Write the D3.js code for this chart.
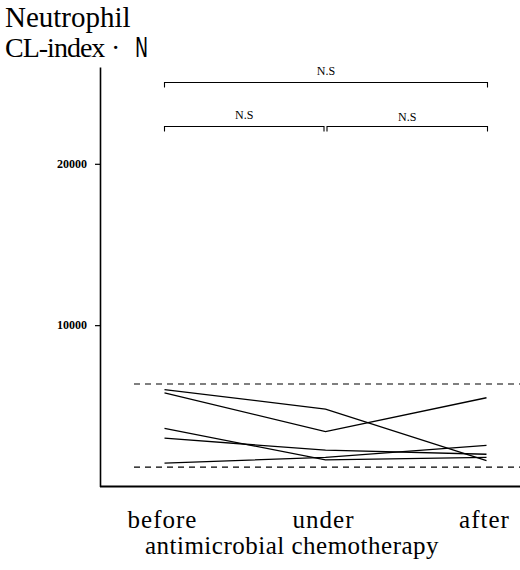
<!DOCTYPE html>
<html>
<head>
<meta charset="utf-8">
<script src="https://cdn.jsdelivr.net/npm/d3@7"></script>
<style>
  html, body { margin: 0; padding: 0; background: #fff; }
  svg { display: block; }
</style>
</head>
<body>
<svg id="chart" width="520" height="570"></svg>
<script>
// Phases of antimicrobial chemotherapy
const phases = ["before", "under", "after"];

// Neutrophil CL-index per patient, one array per patient (before, under, after)
const patientA = [6000, 4800, 1600];
const patientB = [5800, 3400, 5500];
const patientC = [3600, 1650, 1800];
const patientD = [3000, 2250, 2000];
const patientE = [1450, 1800, 2550];
const patients = [patientA, patientB, patientC, patientD, patientE];

// Normal range shown as dashed reference lines
const normalRange = [1200, 6350];

// Y-axis ticks
const yTicks = [10000, 20000];

// Significance brackets between phases
const brackets = [
  { from: "before", to: "after", label: "N.S", level: 0 },
  { from: "before", to: "under", label: "N.S", level: 1 },
  { from: "under", to: "after", label: "N.S", level: 1 }
];

const SERIF = '"Liberation Serif", "Times New Roman", serif';
const svg = d3.select("#chart");

const x = d3.scalePoint().domain(phases).range([164.5, 486.5]);
const y = d3.scaleLinear().domain([0, 26000]).range([486.5, 67]);
const axisX0 = 100;

// Y axis
const yAxis = d3.axisLeft(y).tickValues(yTicks).tickSize(5).tickSizeOuter(0)
  .tickFormat(d3.format("d"));
const gy = svg.append("g").attr("transform", `translate(${axisX0},0)`).call(yAxis);
gy.attr("font-family", null).attr("font-size", null);
gy.select(".domain").attr("stroke", "#000").attr("stroke-width", 1.6);
gy.selectAll(".tick line").attr("stroke", "#000").attr("stroke-width", 1.2);
gy.selectAll(".tick text")
  .attr("x", -13)
  .style("font-family", SERIF)
  .style("font-size", "12px")
  .style("font-weight", "600")
  .attr("fill", "#000");

// X axis baseline
svg.append("line")
  .attr("x1", axisX0).attr("x2", 520)
  .attr("y1", y(0)).attr("y2", y(0))
  .attr("stroke", "#000").attr("stroke-width", 2);

// Normal range dashed lines
svg.selectAll("line.range")
  .data(normalRange)
  .join("line")
  .attr("class", "range")
  .attr("x1", 134).attr("x2", 520)
  .attr("y1", d => y(d)).attr("y2", d => y(d))
  .attr("stroke", "#000").attr("stroke-width", 1.1)
  .attr("stroke-dasharray", "6,5");

// Patient lines
const line = d3.line()
  .x((d, i) => x(phases[i]))
  .y(d => y(d));
svg.selectAll("path.patient")
  .data(patients)
  .join("path")
  .attr("class", "patient")
  .attr("d", line)
  .attr("fill", "none")
  .attr("stroke", "#000")
  .attr("stroke-width", 1.3);

// Significance brackets
const bracketY = [82.5, 126.5];
brackets.forEach(b => {
  const by = bracketY[b.level];
  const x1 = x(b.from) + (b.from === "under" ? 1.5 : 0);
  const x2 = x(b.to) + (b.to === "under" ? -1.5 : 1);
  svg.append("path")
    .attr("d", `M${x1},${by + 5}V${by}H${x2}V${by + 5}`)
    .attr("fill", "none")
    .attr("stroke", "#000")
    .attr("stroke-width", 1.1);
  svg.append("text")
    .attr("x", (x1 + x2) / 2)
    .attr("y", by - (b.level === 1 && b.from === "under" ? 6 : 8))
    .attr("text-anchor", "middle")
    .style("font-family", SERIF)
    .style("font-size", "12px")
    .attr("fill", "#000")
    .text(b.label);
});

// Category labels
svg.selectAll("text.phase")
  .data(phases)
  .join("text")
  .attr("class", "phase")
  .attr("x", d => x(d) - 2)
  .attr("y", 528)
  .attr("text-anchor", "middle")
  .style("font-family", SERIF)
  .style("font-size", "25px")
  .attr("letter-spacing", 1)
  .attr("fill", "#000")
  .text(d => d);

svg.append("text")
  .attr("x", 292)
  .attr("y", 554)
  .attr("text-anchor", "middle")
  .style("font-family", SERIF)
  .style("font-size", "25px")
  .attr("letter-spacing", 0.5)
  .attr("fill", "#000")
  .text("antimicrobial chemotherapy");

// Y axis title
svg.append("text")
  .attr("x", 5).attr("y", 27)
  .style("font-family", SERIF)
  .style("font-size", "29px")
  .attr("fill", "#000")
  .text("Neutrophil");

svg.append("text")
  .attr("x", 5).attr("y", 57)
  .style("font-family", SERIF)
  .style("font-size", "28px")
  .attr("letter-spacing", -1)
  .attr("fill", "#000")
  .text("CL-index");

svg.append("text")
  .attr("x", 111).attr("y", 57)
  .style("font-family", SERIF)
  .style("font-size", "28px")
  .attr("fill", "#000")
  .text("·");

svg.append("text")
  .attr("transform", "translate(135,57) scale(0.72,1)")
  .style("font-family", '"DejaVu Sans Condensed", "DejaVu Sans", sans-serif')
  .style("font-size", "27px")
  .style("font-weight", "300")
  .attr("fill", "#000")
  .text("N");
</script>
</body>
</html>
